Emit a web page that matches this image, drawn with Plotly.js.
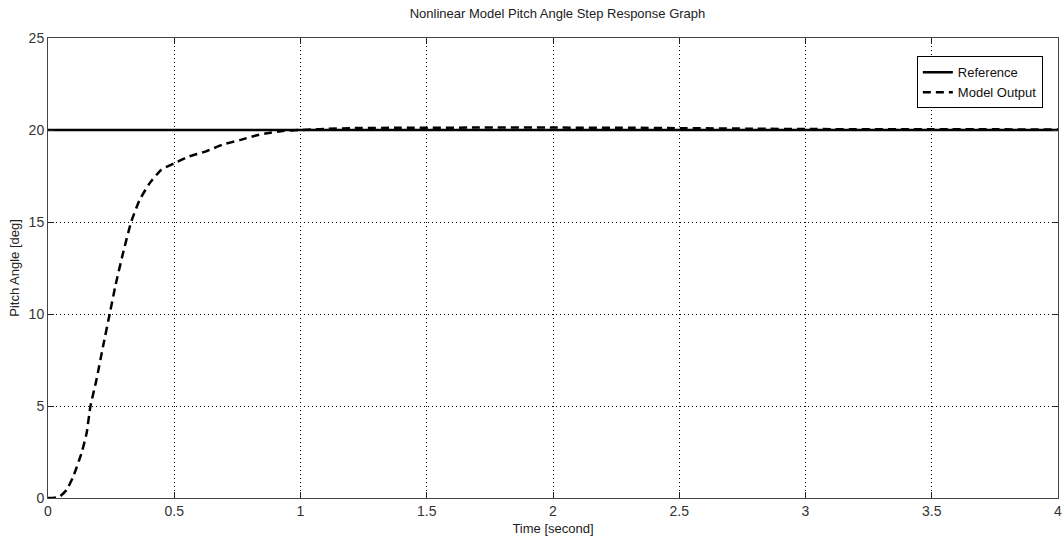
<!DOCTYPE html>
<html>
<head>
<meta charset="utf-8">
<script src="https://cdn.plot.ly/plotly-3.0.1.min.js"></script>
<style>html,body{margin:0;padding:0;background:#fff;}#chart{width:1064px;height:542px;}</style>
</head>
<body>
<div id="chart"></div>
<script>
var refTime = [0, 4];
var refValue = [20, 20];

var outTime = [0, 0.02, 0.047, 0.074, 0.1, 0.133, 0.153, 0.168, 0.192, 0.218, 0.245, 0.268, 0.297, 0.33, 0.363, 0.402, 0.449, 0.501, 0.56, 0.626, 0.69, 0.76, 0.823, 0.88, 0.93, 1.0, 1.05, 1.1, 1.2, 1.4, 1.7, 2.0, 2.3, 2.5, 2.8, 3.0, 3.5, 4.0];
var outValue = [0, 0, 0.09, 0.45, 1.17, 2.45, 3.53, 4.98, 6.43, 8.24, 10.05, 11.6, 13.3, 15.03, 16.2, 17.1, 17.84, 18.2, 18.57, 18.84, 19.2, 19.45, 19.7, 19.85, 19.95, 20.0, 20.03, 20.06, 20.1, 20.12, 20.13, 20.13, 20.12, 20.1, 20.07, 20.05, 20.04, 20.03];

var xTicks = [0, 0.5, 1, 1.5, 2, 2.5, 3, 3.5, 4];
var xTickText = ['0', '0.5', '1', '1.5', '2', '2.5', '3', '3.5', '4'];
var yTicks = [0, 5, 10, 15, 20, 25];
var yTickText = ['0', '5', '10', '15', '20', '25'];

var FONT = 'Liberation Sans, Arial, sans-serif';

var traces = [
  {x: refTime, y: refValue, type: 'scatter', mode: 'lines', name: 'Reference',
   line: {color: '#000', width: 2.5}},
  {x: outTime, y: outValue, type: 'scatter', mode: 'lines', name: 'Model Output',
   line: {color: '#000', width: 2.5, dash: '8px,5px', shape: 'spline', smoothing: 0.5}}
];

var axisCommon = {
  showline: true, linecolor: '#444', linewidth: 1, mirror: 'ticks',
  ticks: 'inside', ticklen: 6, tickcolor: '#222', tickwidth: 1,
  showgrid: true, gridcolor: '#000', gridwidth: 1, griddash: '1px,3px',
  zeroline: false, tickfont: {family: FONT, size: 14, color: '#333'},
  ticklabeloverflow: 'allow', fixedrange: true
};

var layout = {
  width: 1064, height: 542,
  margin: {l: 48, r: 6, t: 38, b: 44},
  paper_bgcolor: '#fff', plot_bgcolor: '#fff',
  font: {family: FONT, color: '#222'},
  title: {text: 'Nonlinear Model Pitch Angle Step Response Graph', x: 0.524, xanchor: 'center', y: 0.975, yanchor: 'middle',
          font: {family: FONT, size: 13, color: '#222'}},
  xaxis: Object.assign({}, axisCommon, {
    range: [0, 4], tickvals: xTicks, ticktext: xTickText,
    title: {text: 'Time [second]', font: {family: FONT, size: 13, color: '#222'}, standoff: 6}
  }),
  yaxis: Object.assign({}, axisCommon, {
    range: [0, 25], tickvals: yTicks, ticktext: yTickText,
    title: {text: 'Pitch Angle [deg]', font: {family: FONT, size: 13, color: '#222'}, standoff: 6}
  }),
  showlegend: true,
  legend: {x: 0.985, y: 0.96, xanchor: 'right', yanchor: 'top', bgcolor: '#fff',
           bordercolor: '#000', borderwidth: 1, font: {family: FONT, size: 13, color: '#111'},
           tracegroupgap: 0, itemwidth: 30}
};

Plotly.newPlot('chart', traces, layout, {displayModeBar: false, staticPlot: true});
</script>
</body>
</html>
